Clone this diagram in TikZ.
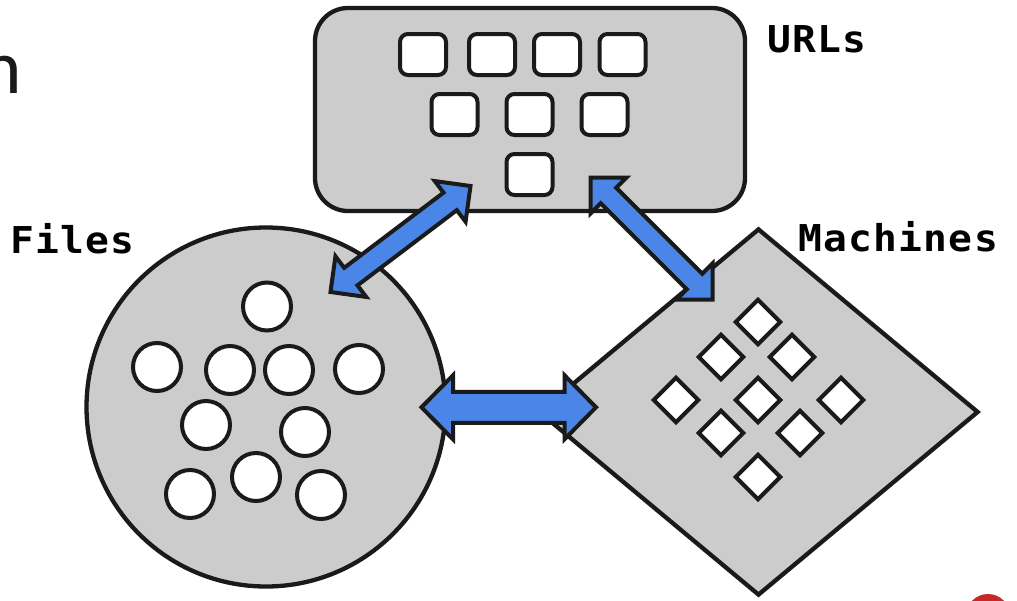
\documentclass[tikz,border=0pt]{standalone}
\usepackage{fontspec}
\usetikzlibrary{calc,shapes.geometric}
\newfontfamily\tagfont[FakeStretch=1.07,LetterSpace=3.5]{DejaVu Sans Mono}
\newfontfamily\slidefont{Carlito}
\definecolor{shapegray}{HTML}{CCCCCC}
\definecolor{edgecol}{HTML}{1A1A1A}
\definecolor{arrowblue}{HTML}{4A86E8}
\definecolor{dotred}{HTML}{C62828}
\tikzset{
  bigshape/.style={draw=edgecol, fill=shapegray, line width=4.3pt, inner sep=0pt},
  urlitem/.style={rectangle, draw=edgecol, fill=white, line width=4pt, rounded corners=8pt,
    minimum width=46pt, minimum height=41pt, inner sep=0pt},
  fileitem/.style={circle, draw=edgecol, fill=white, line width=4pt, minimum size=48pt, inner sep=0pt},
  machitem/.style={rectangle, rotate=45, draw=edgecol, fill=white, line width=4pt,
    minimum size=31.5pt, inner sep=0pt},
  fatarrow/.style={draw=edgecol, fill=arrowblue, line width=4pt, line join=miter},
  tag/.style={font=\tagfont\bfseries\fontsize{37}{37}\selectfont, text=black, inner sep=0pt, anchor=base west}
}
% #1 from, #2 to, #3 shaft half width, #4 head length, #5 head half width
\newcommand\fatarrowpath[5]{%
  \coordinate (fa1) at ($(#1)!#4!(#2)$);
  \coordinate (fa2) at ($(#2)!#4!(#1)$);
  \draw[fatarrow] (#1) -- ($(fa1)!#5!-90:(#2)$) -- ($(fa1)!#3!-90:(#2)$)
    -- ($(fa2)!#3!90:(#1)$) -- ($(fa2)!#5!90:(#1)$) -- (#2)
    -- ($(fa2)!#5!-90:(#1)$) -- ($(fa2)!#3!-90:(#1)$)
    -- ($(fa1)!#3!90:(#2)$) -- ($(fa1)!#5!90:(#2)$) -- cycle;
}
\begin{document}
\begin{tikzpicture}[x=1pt,y=-1pt]
\useasboundingbox (0,0) rectangle (1017,600);
\fill[white] (0,0) rectangle (1017,600);

% big shapes
\node[bigshape, rectangle, rounded corners=33pt, minimum width=430pt, minimum height=203pt] (urls) at (530,109.5) {};
\node[bigshape, circle, minimum size=359pt] (files) at (266,407) {};
\node[bigshape, diamond, minimum width=440pt, minimum height=367pt] (machines) at (758.5,412) {};

% URL items
\node[urlitem] (u1) at (423,54.5) {};
\node[urlitem] (u2) at (492,54.5) {};
\node[urlitem] (u3) at (557,54.5) {};
\node[urlitem] (u4) at (622.5,54.5) {};
\node[urlitem] (u5) at (454.5,114.5) {};
\node[urlitem] (u6) at (529.5,114.5) {};
\node[urlitem] (u7) at (604.5,114.5) {};
\node[urlitem] (u8) at (529.5,174.5) {};

% file items
\node[fileitem] (f1) at (267,306.5) {};
\node[fileitem] (f2) at (157,367) {};
\node[fileitem] (f3) at (230,370) {};
\node[fileitem] (f4) at (289,370) {};
\node[fileitem] (f5) at (359,369) {};
\node[fileitem] (f6) at (206,425) {};
\node[fileitem] (f7) at (305,432) {};
\node[fileitem] (f8) at (256,477) {};
\node[fileitem] (f9) at (190,494) {};
\node[fileitem] (f10) at (321,495) {};

% machine items
\node[machitem] (m1) at (758,322) {};
\node[machitem] (m2) at (721,357) {};
\node[machitem] (m3) at (792,357) {};
\node[machitem] (m4) at (676,400) {};
\node[machitem] (m5) at (758,400) {};
\node[machitem] (m6) at (841,400) {};
\node[machitem] (m7) at (721,433) {};
\node[machitem] (m8) at (800,433) {};
\node[machitem] (m9) at (758,477) {};

% arrow end points
\coordinate (fu-f) at (330.5,292);
\coordinate (fu-u) at (470.5,186);
\coordinate (um-u) at (590.5,177.5);
\coordinate (um-m) at (712.5,299.5);
\coordinate (fm-f) at (421.5,407.3);
\coordinate (fm-m) at (596,407.3);

\fatarrowpath{fu-f}{fu-u}{11pt}{25.5pt}{25.5pt}
\fatarrowpath{um-u}{um-m}{11pt}{25.5pt}{25.5pt}
\fatarrowpath{fm-f}{fm-m}{15.5pt}{31.5pt}{32pt}

% labels
\node[tag] (urlslabel) at (767,52) {URLs};
\node[tag] (fileslabel) at (10,253) {Files};
\node[tag] (machineslabel) at (798,251) {Machines};

% cut-off elements at the borders
\begin{scope}
\clip (0,0) rectangle (1017,600);
\node[font=\slidefont\fontsize{77}{77}\selectfont, text=edgecol, inner sep=0pt, anchor=base east] (cutn) at (22.5,93) {n};
\fill[dotred] (988,616) circle[radius=22];
\end{scope}
\end{tikzpicture}
\end{document}
